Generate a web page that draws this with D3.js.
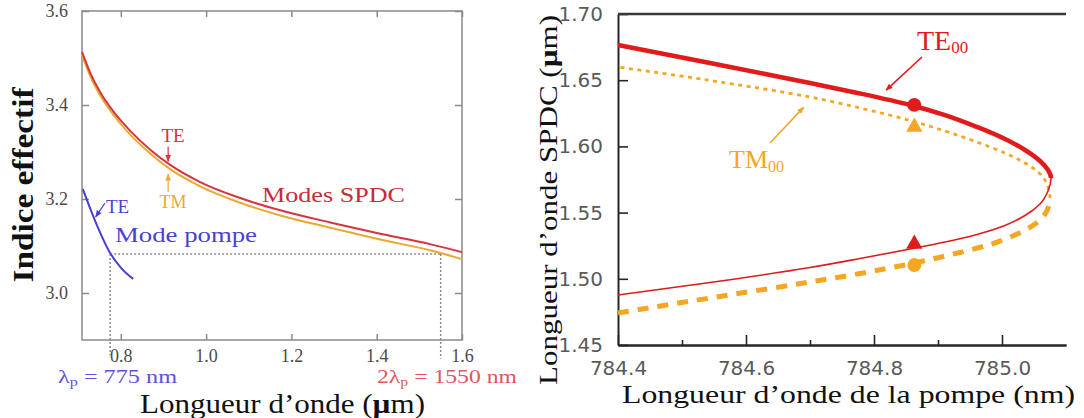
<!DOCTYPE html>
<html>
<head>
<meta charset="utf-8">
<script src="https://cdn.jsdelivr.net/npm/d3@7"></script>
<style>
  body { margin: 0; background: #fff; }
  svg { display: block; }
</style>
</head>
<body>
<svg width="1084" height="418"></svg>
<script>
// ---- data: left panel (indice effectif vs longueur d'onde, µm)
const leftTicksX = [0.8, 1.0, 1.2, 1.4, 1.6];
const leftTicksY = [3.0, 3.2, 3.4, 3.6];
const spdcTE = [[0.709, 3.513], [0.728, 3.469], [0.751, 3.428], [0.786, 3.382], [0.822, 3.345], [0.869, 3.305],
  [0.915, 3.273], [0.986, 3.236], [1.080, 3.202], [1.174, 3.176], [1.291, 3.150], [1.408, 3.126], [1.525, 3.104], [1.600, 3.087]];
const spdcTM = [[0.709, 3.506], [0.728, 3.462], [0.751, 3.421], [0.786, 3.375], [0.822, 3.337], [0.869, 3.297],
  [0.915, 3.264], [0.986, 3.227], [1.080, 3.192], [1.174, 3.165], [1.291, 3.139], [1.408, 3.114], [1.525, 3.091], [1.600, 3.072]];
const pumpTE = [[0.711, 3.221], [0.739, 3.155], [0.775, 3.085], [0.801, 3.053], [0.829, 3.030]];
const lambdaP = 0.775;
const lambdaSPDC = 1.55;
const neffMatch = 3.083;

// ---- data: right panel (longueur d'onde SPDC vs pompe), [pompe nm, SPDC µm]
const rightTicksX = [784.4, 784.6, 784.8, 785.0];
const rightMinorX = [784.5, 784.7, 784.9];
const rightTicksY = [1.45, 1.50, 1.55, 1.60, 1.65, 1.70];
const teUpper = [[784.4, 1.6766], [784.5438, 1.6630], [784.7, 1.6479], [784.7781, 1.6400], [784.8563, 1.6313],
  [784.9109, 1.6237], [784.9609, 1.6147], [785.0047, 1.6056], [785.0359, 1.5973], [785.0594, 1.5890],
  [785.0719, 1.5822], [785.0766, 1.5761]];
const teLower = [[785.0719, 1.5663], [785.0594, 1.5565], [785.0359, 1.5478], [785.0047, 1.5403], [784.9609, 1.5335],
  [784.9109, 1.5278], [784.8609, 1.5229], [784.7781, 1.5153], [784.7, 1.5085], [784.5438, 1.4972], [784.4, 1.4878]];
const tmUpper = [[784.4, 1.6600], [784.5438, 1.6498], [784.7, 1.6373], [784.7781, 1.6290], [784.8563, 1.6196],
  [784.9109, 1.6116], [784.9609, 1.6033], [785.0047, 1.5950], [785.0359, 1.5875], [785.0563, 1.5807],
  [785.0688, 1.5731], [785.0734, 1.5663], [785.0750, 1.5610]];
const tmLower = [[785.0734, 1.5557], [785.0672, 1.5489], [785.0516, 1.5414], [785.0203, 1.5331], [784.9813, 1.5259],
  [784.9344, 1.5199], [784.8625, 1.5119], [784.7781, 1.5040], [784.7, 1.4976], [784.5438, 1.4855], [784.4, 1.4742]];
const teTip = 1.5761, tmTip = 1.5610;
const pumpMark = 784.863;
const markTE1 = 1.6313, markTM1 = 1.6147, markTE2 = 1.5263, markTM2 = 1.5104;

const svg = d3.select("svg");
const serif = "'Liberation Serif', 'Times New Roman', serif";
const sans = "'DejaVu Sans', Verdana, sans-serif";

const red = "#e01b1b", orange = "#f5a623";
const lRed = "#d8333e", lOrange = "#e9a92e", lBlue = "#4a3fd2";

// arrow heads
const defs = svg.append("defs");
function arrowHead(id, color) {
  defs.append("marker")
    .attr("id", id)
    .attr("viewBox", "0 0 10 10")
    .attr("refX", 9).attr("refY", 5)
    .attr("markerUnits", "userSpaceOnUse")
    .attr("markerWidth", 8).attr("markerHeight", 7)
    .attr("orient", "auto")
    .append("path")
      .attr("d", "M0,1 L10,5 L0,9 z")
      .attr("fill", color);
}
arrowHead("a-lred", lRed);
arrowHead("a-lorange", lOrange);
arrowHead("a-lblue", lBlue);
arrowHead("a-red", red);
arrowHead("a-orange", orange);

function txt(g, x, y, str, size, color, opts) {
  opts = opts || {};
  let t = g.append("text")
    .attr("x", x).attr("y", y)
    .attr("font-family", opts.family || serif)
    .attr("font-size", size)
    .attr("fill", color)
    .attr("text-anchor", opts.anchor || "start");
  if (opts.weight) t.attr("font-weight", opts.weight);
  if (opts.len) t.attr("textLength", opts.len).attr("lengthAdjust", "spacingAndGlyphs");
  if (opts.rotate) t.attr("transform", `rotate(-90,${x},${y})`);
  t.text(str);
  return t;
}

// ================= left panel =================
let xL = d3.scaleLinear().domain([0.709, 1.6]).range([82, 462]);
let yL = d3.scaleLinear().domain([2.9, 3.6]).range([340, 11]);

let gl = svg.append("g");

gl.append("rect")
  .attr("x", xL.range()[0]).attr("y", yL.range()[1])
  .attr("width", xL.range()[1] - xL.range()[0])
  .attr("height", yL.range()[0] - yL.range()[1])
  .attr("fill", "none").attr("stroke", "#8a8a8a").attr("stroke-width", 1.5);

function styleLeftAxis(sel) {
  sel.select(".domain").remove();
  sel.selectAll(".tick line").attr("stroke", "#8a8a8a").attr("stroke-width", 1.5);
  sel.selectAll(".tick text")
    .attr("fill", "#4a4a4a")
    .attr("font-family", serif)
    .attr("font-size", 18);
}

gl.append("g")
  .attr("transform", `translate(0,${yL.range()[0]})`)
  .call(d3.axisBottom(xL).tickValues(leftTicksX).tickSize(-6).tickPadding(9).tickFormat(d3.format(".1f")))
  .call(styleLeftAxis);
gl.append("g")
  .attr("transform", `translate(0,${yL.range()[1]})`)
  .call(d3.axisTop(xL).tickValues(leftTicksX).tickSize(-6).tickFormat(""))
  .call(styleLeftAxis);
gl.append("g")
  .attr("transform", `translate(${xL.range()[0]},0)`)
  .call(d3.axisLeft(yL).tickValues(leftTicksY).tickSize(-7).tickPadding(14).tickFormat(d3.format(".1f")))
  .call(styleLeftAxis);
gl.append("g")
  .attr("transform", `translate(${xL.range()[1]},0)`)
  .call(d3.axisRight(yL).tickValues(leftTicksY).tickSize(-7).tickFormat(""))
  .call(styleLeftAxis);

// guide dotted lines
const dotted = [
  [[lambdaP, neffMatch], [lambdaSPDC, neffMatch]],
  [[lambdaP, neffMatch], [lambdaP, 2.868]],
  [[lambdaSPDC, neffMatch], [lambdaSPDC, 2.860]]
];
gl.selectAll(".guide")
  .data(dotted)
  .enter().append("path")
    .attr("class", "guide")
    .attr("d", d3.line().x(d => xL(d[0])).y(d => yL(d[1])))
    .attr("fill", "none")
    .attr("stroke", "#8c8c8c")
    .attr("stroke-width", 1.5)
    .attr("stroke-dasharray", "2,2");

let lineL = d3.line().x(d => xL(d[0])).y(d => yL(d[1])).curve(d3.curveMonotoneX);

gl.append("path").datum(spdcTM).attr("d", lineL)
  .attr("fill", "none").attr("stroke", lOrange).attr("stroke-width", 2);
gl.append("path").datum(spdcTE).attr("d", lineL)
  .attr("fill", "none").attr("stroke", lRed).attr("stroke-width", 2);
gl.append("path").datum(pumpTE).attr("d", lineL)
  .attr("fill", "none").attr("stroke", lBlue).attr("stroke-width", 2);

// small arrows
const leftArrows = [
  { from: [0.911, 3.311], to: [0.911, 3.280], id: "a-lred", c: lRed },
  { from: [0.911, 3.215], to: [0.911, 3.253], id: "a-lorange", c: lOrange },
  { from: [0.763, 3.1915], to: [0.741, 3.162], id: "a-lblue", c: lBlue }
];
gl.selectAll(".arr")
  .data(leftArrows)
  .enter().append("line")
    .attr("x1", d => xL(d.from[0])).attr("y1", d => yL(d.from[1]))
    .attr("x2", d => xL(d.to[0])).attr("y2", d => yL(d.to[1]))
    .attr("stroke", d => d.c).attr("stroke-width", 1.2)
    .attr("marker-end", d => `url(#${d.id})`);

txt(gl, 173, 142, "TE", 19, lRed, { anchor: "middle" });
txt(gl, 173, 208, "TM", 18, lOrange, { anchor: "middle" });
txt(gl, 106, 213, "TE", 19, lBlue);
txt(gl, 115, 242, "Mode pompe", 22, lBlue, { len: 142 });
txt(gl, 262, 202, "Modes SPDC", 22, "#c92a35", { len: 143 });

let lp = txt(gl, 58, 383, "λ", 18, "#5a52e0", { len: 119 });
lp.append("tspan").attr("font-size", 12).attr("dy", 3).text("p");
lp.append("tspan").attr("dy", -3).text(" = 775 nm");

let lp2 = txt(gl, 377, 383, "2λ", 18, "#e2555f", { len: 140 });
lp2.append("tspan").attr("font-size", 12).attr("dy", 3).text("p");
lp2.append("tspan").attr("dy", -3).text(" = 1550 nm");

let xtl = txt(gl, 140, 413, "Longueur d’onde (", 27, "#111", { len: 285 });
xtl.append("tspan").attr("font-weight", "bold").text("µ");
xtl.append("tspan").text("m)");

txt(gl, 33, 185, "Indice effectif", 29, "#111", { anchor: "middle", weight: "bold", len: 195, rotate: true });

// ================= right panel =================
let xR = d3.scaleLinear().domain([784.4, 785.1]).range([618, 1066]);
let yR = d3.scaleLinear().domain([1.45, 1.70]).range([345, 14]);

let gr = svg.append("g");

function styleRightAxis(sel) {
  sel.select(".domain").attr("stroke", "#262626").attr("stroke-width", 2);
  sel.selectAll(".tick line").attr("stroke", "#262626").attr("stroke-width", 1.6);
  sel.selectAll(".tick text")
    .attr("fill", "#5a5a5a")
    .attr("font-family", sans)
    .attr("font-size", 20);
}

gr.append("g")
  .attr("transform", `translate(0,${yR.range()[0]})`)
  .call(d3.axisBottom(xR).tickValues(rightMinorX).tickSize(-5).tickSizeOuter(0).tickFormat(""))
  .call(styleRightAxis);
gr.append("g")
  .attr("transform", `translate(0,${yR.range()[0]})`)
  .call(d3.axisBottom(xR).tickValues(rightTicksX).tickSize(-10).tickSizeOuter(0).tickPadding(16).tickFormat(d3.format(".1f")))
  .call(styleRightAxis);
gr.append("g")
  .attr("transform", `translate(${xR.range()[0]},0)`)
  .call(d3.axisLeft(yR).tickValues(rightTicksY).tickSize(-10).tickSizeOuter(0).tickPadding(15).tickFormat(d3.format(".2f")))
  .call(styleRightAxis);
gr.append("line")
  .attr("x1", xR.range()[0]).attr("x2", xR.range()[1])
  .attr("y1", yR.range()[1]).attr("y2", yR.range()[1])
  .attr("stroke", "#3a3a3a").attr("stroke-width", 2.5);

// each mode is one curve, SPDC wavelength as the running variable; branches split at the tip
let lineR = d3.line().x(d => xR(d[0])).y(d => yR(d[1])).curve(d3.curveMonotoneY);
const byValue = (a, b) => a[1] - b[1];
const teCurve = teUpper.concat(teLower).sort(byValue);
const tmCurve = tmUpper.concat(tmLower).sort(byValue);

function clipBand(id, v0, v1) {
  defs.append("clipPath").attr("id", id)
    .append("rect")
      .attr("x", 0).attr("width", 1084)
      .attr("y", yR(v1)).attr("height", yR(v0) - yR(v1));
}
clipBand("c-te-up", teTip, 1.75);
clipBand("c-te-lo", 1.40, teTip);
clipBand("c-tm-up", tmTip, 1.75);
clipBand("c-tm-lo", 1.40, tmTip);

gr.append("path").datum(tmCurve).attr("d", lineR)
  .attr("clip-path", "url(#c-tm-up)")
  .attr("fill", "none").attr("stroke", orange).attr("stroke-width", 2.8)
  .attr("stroke-dasharray", "4,4.5");
gr.append("path").datum(tmCurve).attr("d", lineR)
  .attr("clip-path", "url(#c-tm-lo)")
  .attr("fill", "none").attr("stroke", orange).attr("stroke-width", 5)
  .attr("stroke-dasharray", "11,9");
gr.append("path").datum(teCurve).attr("d", lineR)
  .attr("clip-path", "url(#c-te-up)")
  .attr("fill", "none").attr("stroke", red).attr("stroke-width", 4.5);
gr.append("path").datum(teCurve).attr("d", lineR)
  .attr("clip-path", "url(#c-te-lo)")
  .attr("fill", "none").attr("stroke", red).attr("stroke-width", 1.6);

const markers = [
  { v: markTE1, shape: d3.symbolCircle, size: 150, c: red },
  { v: markTM1, shape: d3.symbolTriangle, size: 115, c: orange },
  { v: markTE2, shape: d3.symbolTriangle, size: 115, c: red },
  { v: markTM2, shape: d3.symbolCircle, size: 150, c: orange }
];
gr.selectAll(".mk")
  .data(markers)
  .enter().append("path")
    .attr("transform", d => `translate(${xR(pumpMark)},${yR(d.v)})`)
    .attr("d", d => d3.symbol().type(d.shape).size(d.size)())
    .attr("fill", d => d.c);

const rightArrows = [
  { from: [784.875, 1.6675], to: [784.819, 1.6425], id: "a-red", c: red },
  { from: [784.6375, 1.6026], to: [784.690, 1.6295], id: "a-orange", c: orange }
];
gr.selectAll(".arr")
  .data(rightArrows)
  .enter().append("line")
    .attr("x1", d => xR(d.from[0])).attr("y1", d => yR(d.from[1]))
    .attr("x2", d => xR(d.to[0])).attr("y2", d => yR(d.to[1]))
    .attr("stroke", d => d.c).attr("stroke-width", 1.6)
    .attr("marker-end", d => `url(#${d.id})`);

let te00 = txt(gr, 917, 50, "TE", 28, red);
te00.append("tspan").attr("font-size", 17).attr("dy", 3).text("00");
let tm00 = txt(gr, 729, 168, "TM", 26, orange);
tm00.append("tspan").attr("font-size", 16).attr("dy", 4).text("00");

txt(gr, 622, 403, "Longueur d’onde de la pompe (nm)", 26, "#111", { len: 453 });

let ytr = txt(gr, 557, 200, "Longueur d’onde SPDC (", 26, "#111", { anchor: "middle", len: 370, rotate: true });
ytr.append("tspan").attr("font-weight", "bold").text("µ");
ytr.append("tspan").text("m)");
</script>
</body>
</html>
